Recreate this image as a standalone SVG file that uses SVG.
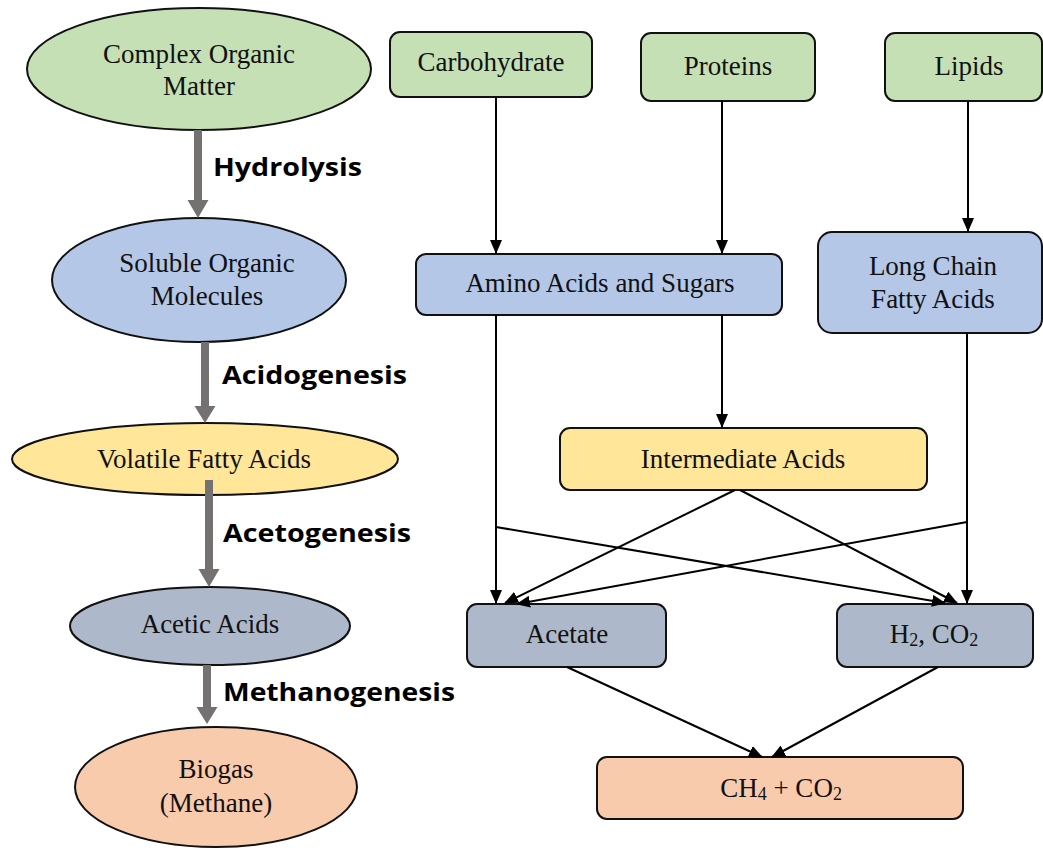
<svg xmlns="http://www.w3.org/2000/svg" width="1043" height="851" viewBox="0 0 1043 851">
<style>
.t{font-family:"Liberation Serif","Times New Roman",serif;font-size:27px;fill:#111;text-anchor:middle}
.b{font-family:"Open Sans","DejaVu Sans",sans-serif;font-size:25px;font-weight:bold;fill:#000}
.n{stroke:#111;stroke-width:2}
.g{fill:#C5E0B4}.bl{fill:#B4C7E7}.y{fill:#FFE699}.s{fill:#ADB9CA}.o{fill:#F8CBAD}
.c{stroke:#000;stroke-width:2;fill:none;marker-end:url(#ah)}
.gs{stroke:#767171;stroke-width:8}
.gh{fill:#767171}
</style>
<defs>
<marker id="ah" markerUnits="userSpaceOnUse" markerWidth="14" markerHeight="12" refX="13" refY="6" orient="auto">
<path d="M0,0 L14,6 L0,12 z" fill="#000"/>
</marker>
</defs>
<rect width="1043" height="851" fill="#fff"/>

<g id="complex"><ellipse class="n g" cx="199" cy="69" rx="172" ry="61"/><text class="t" x="199" y="63">Complex Organic</text><text class="t" x="199" y="95">Matter</text></g>
<g id="soluble"><ellipse class="n bl" cx="199" cy="280" rx="147" ry="62"/><text class="t" x="207" y="272">Soluble Organic</text><text class="t" x="207" y="305">Molecules</text></g>
<g id="vfa"><ellipse class="n y" cx="205" cy="459" rx="193" ry="36"/><text class="t" x="204" y="468">Volatile Fatty Acids</text></g>
<g id="acetic"><ellipse class="n s" cx="210" cy="626" rx="140" ry="39"/><text class="t" x="210" y="633">Acetic Acids</text></g>
<g id="biogas"><ellipse class="n o" cx="216" cy="787" rx="141" ry="60"/><text class="t" x="216" y="778">Biogas</text><text class="t" x="216" y="812">(Methane)</text></g>

<g id="labels">
<text class="b" x="213" y="176" textLength="149" lengthAdjust="spacingAndGlyphs">Hydrolysis</text>
<text class="b" x="222" y="384" textLength="185" lengthAdjust="spacingAndGlyphs">Acidogenesis</text>
<text class="b" x="223" y="542" textLength="188" lengthAdjust="spacingAndGlyphs">Acetogenesis</text>
<text class="b" x="223" y="701" textLength="232" lengthAdjust="spacingAndGlyphs">Methanogenesis</text>
</g>

<g id="carbohydrate"><rect class="n g" x="390" y="32" width="202" height="65" rx="10"/><text class="t" x="491" y="71">Carbohydrate</text></g>
<g id="proteins"><rect class="n g" x="641" y="33" width="174" height="68" rx="10"/><text class="t" x="728" y="75">Proteins</text></g>
<g id="lipids"><rect class="n g" x="885" y="33" width="157" height="68" rx="10"/><text class="t" x="969" y="75">Lipids</text></g>
<g id="amino"><rect class="n bl" x="416" y="254" width="366" height="61" rx="10"/><text class="t" x="600" y="292">Amino Acids and Sugars</text></g>
<g id="longchain"><rect class="n bl" x="818" y="232" width="224" height="101" rx="14"/><text class="t" x="933" y="275">Long Chain</text><text class="t" x="933" y="308">Fatty Acids</text></g>
<g id="intermediate"><rect class="n y" x="560" y="428" width="367" height="62" rx="10"/><text class="t" x="743" y="468">Intermediate Acids</text></g>
<g id="acetate"><rect class="n s" x="467" y="604" width="199" height="63" rx="10"/><text class="t" x="567" y="643">Acetate</text></g>
<g id="h2co2"><rect class="n s" x="837" y="604" width="196" height="63" rx="10"/><text class="t" x="934" y="643">H<tspan font-size="18" dy="3">2</tspan><tspan dy="-3">, CO</tspan><tspan font-size="18" dy="3">2</tspan></text></g>
<g id="ch4co2"><rect class="n o" x="597" y="757" width="366" height="62" rx="10"/><text class="t" x="781" y="797">CH<tspan font-size="18" dy="3">4</tspan><tspan dy="-3"> + CO</tspan><tspan font-size="18" dy="3">2</tspan></text></g>

<g id="connectors">
<line class="gs" x1="198" y1="130" x2="198" y2="201"/><path class="gh" d="M187.5,200 L208.5,200 L198,218 z"/>
<line class="gs" x1="205" y1="342" x2="205" y2="407"/><path class="gh" d="M194.5,406 L215.5,406 L205,423 z"/>
<line class="gs" x1="209" y1="480" x2="209" y2="570"/><path class="gh" d="M198.5,569 L219.5,569 L209,587 z"/>
<line class="gs" x1="207" y1="665" x2="207" y2="708"/><path class="gh" d="M196.5,707 L217.5,707 L207,724 z"/>

<line class="c" x1="496" y1="97" x2="496" y2="253"/>
<line class="c" x1="722" y1="101" x2="722" y2="253"/>
<line class="c" x1="968" y1="101" x2="968" y2="231"/>
<line class="c" x1="496" y1="315" x2="496" y2="603"/>
<line class="c" x1="722" y1="315" x2="722" y2="427"/>
<line class="c" x1="496" y1="527" x2="945" y2="603"/>
<line class="c" x1="967" y1="333" x2="967" y2="603"/>
<line class="c" x1="967" y1="522" x2="517" y2="604"/>
<line class="c" x1="735" y1="490" x2="505" y2="603"/>
<line class="c" x1="740" y1="490" x2="957" y2="603"/>
<line class="c" x1="567" y1="667" x2="762" y2="757"/>
<line class="c" x1="938" y1="667" x2="772" y2="757"/>
</g>
</svg>
